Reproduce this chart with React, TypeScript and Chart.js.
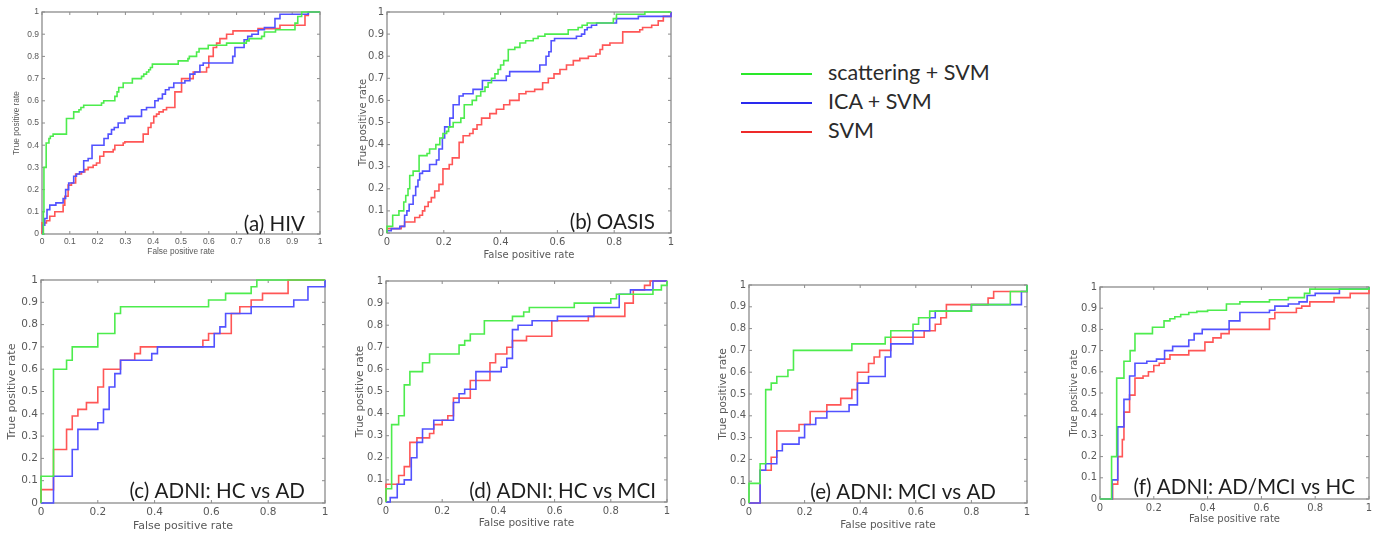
import React, { useEffect, useRef } from 'react';
import { Chart, registerables } from 'chart.js';

Chart.register(...registerables);

type Pt = [number, number];

// ---------- data: ROC corner points [false positive rate, true positive rate] ----------
// (a) HIV
const hivScattering: Pt[] = [[0,0],[0.005,0.1],[0.007,0.3],[0.015,0.41],[0.025,0.43],[0.03,0.44],[0.04,0.45],[0.088,0.52],[0.114,0.55],[0.133,0.56],[0.14,0.57],[0.15,0.58],[0.214,0.59],[0.222,0.6],[0.262,0.62],[0.27,0.64],[0.276,0.66],[0.292,0.68],[0.325,0.7],[0.358,0.71],[0.366,0.72],[0.376,0.73],[0.384,0.74],[0.39,0.75],[0.397,0.765],[0.49,0.78],[0.525,0.79],[0.53,0.8],[0.556,0.82],[0.565,0.835],[0.598,0.85],[0.664,0.86],[0.735,0.87],[0.745,0.88],[0.79,0.89],[0.8,0.91],[0.84,0.92],[0.91,0.95],[0.92,0.98],[0.934,1],[1,1]];
const hivIca: Pt[] = [[0,0],[0.004,0.04],[0.01,0.07],[0.018,0.11],[0.028,0.13],[0.05,0.14],[0.076,0.16],[0.085,0.2],[0.096,0.23],[0.114,0.26],[0.124,0.27],[0.135,0.28],[0.15,0.33],[0.166,0.34],[0.18,0.4],[0.223,0.43],[0.238,0.45],[0.25,0.47],[0.26,0.48],[0.274,0.5],[0.298,0.52],[0.31,0.53],[0.358,0.56],[0.376,0.57],[0.406,0.6],[0.418,0.61],[0.433,0.63],[0.444,0.65],[0.457,0.66],[0.474,0.68],[0.514,0.69],[0.532,0.72],[0.55,0.73],[0.568,0.76],[0.58,0.77],[0.686,0.8],[0.694,0.84],[0.727,0.875],[0.74,0.89],[0.755,0.9],[0.778,0.92],[0.8,0.93],[0.838,0.97],[0.856,0.99],[0.958,1],[1,1]];
const hivSvm: Pt[] = [[0,0],[0,0.05],[0.016,0.06],[0.028,0.08],[0.046,0.1],[0.076,0.13],[0.082,0.17],[0.094,0.22],[0.106,0.23],[0.121,0.27],[0.142,0.28],[0.154,0.29],[0.166,0.3],[0.184,0.31],[0.196,0.32],[0.208,0.35],[0.222,0.37],[0.256,0.38],[0.262,0.4],[0.292,0.41],[0.298,0.415],[0.364,0.45],[0.382,0.48],[0.392,0.5],[0.402,0.53],[0.412,0.54],[0.421,0.55],[0.436,0.56],[0.448,0.57],[0.478,0.64],[0.502,0.7],[0.544,0.73],[0.592,0.75],[0.6,0.8],[0.616,0.84],[0.628,0.86],[0.64,0.88],[0.664,0.9],[0.687,0.915],[0.777,0.925],[0.856,0.94],[0.946,0.985],[0.958,1],[1,1]];

// (b) OASIS
const oasisScattering: Pt[] = [[0,0],[0,0.03],[0.02,0.08],[0.042,0.1],[0.059,0.14],[0.066,0.17],[0.074,0.2],[0.08,0.26],[0.092,0.28],[0.113,0.35],[0.141,0.36],[0.15,0.38],[0.172,0.4],[0.186,0.43],[0.197,0.45],[0.21,0.46],[0.217,0.48],[0.233,0.5],[0.26,0.52],[0.272,0.58],[0.3,0.6],[0.315,0.62],[0.33,0.64],[0.345,0.66],[0.356,0.68],[0.368,0.7],[0.38,0.72],[0.391,0.74],[0.4,0.76],[0.411,0.78],[0.427,0.83],[0.45,0.84],[0.468,0.86],[0.488,0.87],[0.515,0.88],[0.532,0.89],[0.556,0.9],[0.638,0.92],[0.673,0.93],[0.687,0.94],[0.705,0.95],[0.797,0.97],[0.808,0.99],[0.908,1],[1,1]];
const oasisIca: Pt[] = [[0,0],[0,0.01],[0.015,0.02],[0.045,0.03],[0.062,0.08],[0.07,0.1],[0.078,0.13],[0.092,0.17],[0.101,0.21],[0.109,0.24],[0.115,0.27],[0.125,0.28],[0.15,0.31],[0.174,0.33],[0.183,0.38],[0.195,0.43],[0.203,0.48],[0.221,0.52],[0.233,0.58],[0.254,0.62],[0.268,0.63],[0.303,0.65],[0.336,0.69],[0.42,0.71],[0.432,0.73],[0.538,0.76],[0.56,0.8],[0.57,0.82],[0.578,0.87],[0.59,0.88],[0.667,0.89],[0.685,0.9],[0.696,0.92],[0.705,0.93],[0.72,0.94],[0.738,0.95],[0.808,0.97],[0.885,0.98],[1,1]];
const oasisSvm: Pt[] = [[0,0],[0,0.02],[0.05,0.03],[0.062,0.05],[0.098,0.07],[0.115,0.08],[0.125,0.1],[0.133,0.12],[0.145,0.14],[0.156,0.16],[0.168,0.19],[0.183,0.22],[0.197,0.29],[0.219,0.31],[0.23,0.34],[0.254,0.41],[0.268,0.44],[0.291,0.45],[0.303,0.47],[0.317,0.49],[0.333,0.52],[0.362,0.54],[0.385,0.56],[0.411,0.58],[0.432,0.6],[0.465,0.63],[0.489,0.64],[0.52,0.65],[0.548,0.68],[0.568,0.7],[0.588,0.72],[0.609,0.74],[0.632,0.76],[0.656,0.78],[0.679,0.79],[0.709,0.8],[0.736,0.81],[0.75,0.83],[0.759,0.85],[0.785,0.86],[0.83,0.91],[0.89,0.92],[0.9,0.93],[0.932,0.94],[0.955,0.96],[0.973,0.98],[1,1]];

// (c) ADNI: HC vs AD
const hcAdScattering: Pt[] = [[0,0],[0,0.12],[0.044,0.6],[0.09,0.64],[0.11,0.7],[0.2,0.76],[0.26,0.85],[0.28,0.88],[0.59,0.91],[0.65,0.94],[0.74,0.97],[0.76,1],[1,1]];
const hcAdIca: Pt[] = [[0,0],[0.044,0.12],[0.11,0.24],[0.13,0.33],[0.2,0.36],[0.22,0.42],[0.24,0.52],[0.26,0.58],[0.28,0.64],[0.39,0.67],[0.41,0.7],[0.61,0.76],[0.63,0.79],[0.65,0.85],[0.74,0.88],[0.89,0.91],[0.94,0.97],[1,1]];
const hcAdSvm: Pt[] = [[0,0],[0,0.06],[0.044,0.24],[0.09,0.33],[0.11,0.39],[0.13,0.42],[0.16,0.45],[0.2,0.52],[0.22,0.6],[0.28,0.64],[0.33,0.67],[0.35,0.7],[0.57,0.73],[0.59,0.76],[0.67,0.85],[0.7,0.88],[0.74,0.91],[0.78,0.94],[0.87,1],[1,1]];

// (d) ADNI: HC vs MCI
const hcMciScattering: Pt[] = [[0,0],[0,0.06],[0.02,0.35],[0.045,0.39],[0.065,0.53],[0.085,0.59],[0.13,0.63],[0.155,0.67],[0.26,0.71],[0.28,0.73],[0.3,0.76],[0.35,0.82],[0.45,0.84],[0.49,0.86],[0.51,0.88],[0.67,0.9],[0.8,0.92],[0.82,0.94],[0.95,0.96],[0.98,0.98],[1,1]];
const hcMciIca: Pt[] = [[0,0],[0.015,0.02],[0.04,0.08],[0.065,0.1],[0.09,0.2],[0.11,0.27],[0.13,0.33],[0.17,0.37],[0.24,0.45],[0.26,0.49],[0.28,0.51],[0.32,0.59],[0.41,0.61],[0.43,0.65],[0.45,0.78],[0.47,0.8],[0.52,0.82],[0.61,0.84],[0.74,0.88],[0.83,0.94],[0.87,0.96],[0.95,1],[1,1]];
const hcMciSvm: Pt[] = [[0,0],[0,0.08],[0.045,0.12],[0.065,0.16],[0.085,0.27],[0.11,0.29],[0.155,0.31],[0.17,0.35],[0.2,0.37],[0.22,0.39],[0.24,0.47],[0.3,0.55],[0.37,0.63],[0.39,0.67],[0.43,0.7],[0.45,0.73],[0.5,0.75],[0.59,0.82],[0.72,0.84],[0.85,0.9],[0.88,0.96],[0.92,0.98],[0.94,1],[1,1]];

// (e) ADNI: MCI vs AD
const mciAdScattering: Pt[] = [[0,0],[0,0.09],[0.04,0.18],[0.06,0.52],[0.08,0.55],[0.1,0.58],[0.14,0.61],[0.16,0.7],[0.37,0.73],[0.49,0.76],[0.51,0.79],[0.59,0.82],[0.61,0.85],[0.65,0.88],[0.8,0.91],[0.94,0.97],[1,1]];
const mciAdIca: Pt[] = [[0,0],[0.04,0.15],[0.06,0.18],[0.1,0.24],[0.12,0.27],[0.18,0.3],[0.2,0.36],[0.24,0.39],[0.28,0.42],[0.36,0.45],[0.39,0.55],[0.43,0.58],[0.49,0.67],[0.51,0.73],[0.59,0.79],[0.65,0.85],[0.67,0.88],[0.8,0.91],[0.98,0.97],[1,1]];
const mciAdSvm: Pt[] = [[0,0],[0.04,0.15],[0.08,0.21],[0.1,0.33],[0.18,0.36],[0.22,0.42],[0.28,0.45],[0.33,0.48],[0.37,0.52],[0.39,0.6],[0.43,0.64],[0.45,0.67],[0.47,0.7],[0.51,0.76],[0.63,0.79],[0.67,0.82],[0.69,0.85],[0.71,0.91],[0.86,0.94],[0.88,0.97],[1,1]];

// (f) ADNI: AD/MCI vs HC
const adMciHcScattering: Pt[] = [[0,0],[0.043,0.2],[0.062,0.57],[0.089,0.65],[0.112,0.7],[0.13,0.78],[0.195,0.81],[0.238,0.84],[0.26,0.85],[0.278,0.86],[0.3,0.87],[0.33,0.88],[0.36,0.885],[0.4,0.89],[0.47,0.92],[0.52,0.93],[0.63,0.94],[0.7,0.95],[0.76,0.97],[0.78,0.99],[1,1]];
const adMciHcIca: Pt[] = [[0,0],[0.045,0.09],[0.066,0.34],[0.089,0.47],[0.11,0.58],[0.13,0.64],[0.174,0.65],[0.21,0.66],[0.24,0.7],[0.27,0.72],[0.33,0.75],[0.35,0.78],[0.38,0.8],[0.48,0.84],[0.52,0.88],[0.63,0.89],[0.65,0.91],[0.7,0.92],[0.74,0.93],[0.77,0.96],[0.8,0.97],[0.89,0.99],[1,1]];
const adMciHcSvm: Pt[] = [[0,0],[0.047,0.07],[0.066,0.2],[0.083,0.28],[0.089,0.41],[0.11,0.49],[0.13,0.57],[0.16,0.58],[0.18,0.6],[0.2,0.63],[0.22,0.64],[0.24,0.66],[0.26,0.68],[0.33,0.7],[0.39,0.74],[0.42,0.76],[0.45,0.78],[0.48,0.8],[0.63,0.85],[0.65,0.88],[0.73,0.9],[0.75,0.91],[0.78,0.93],[0.87,0.95],[0.93,0.97],[1,0.99]];

const seriesNames = ['scattering + SVM', 'ICA + SVM', 'SVM'];
const xAxisTitle = 'False positive rate';
const yAxisTitle = 'True positive rate';

// ---------- styles / layout ----------
const lineColors = ['#4dec4d', '#5252ff', '#ff5656'];
const legendColors = ['#2ae82a', '#2a2aee', '#ee2a2a'];
const PAD = 10;

interface PanelCfg {
  label: string;
  data: Pt[][];
  xStep: number;
  L: number; T: number; R: number; B: number;
  yTitleX: number; xTitleY: number;
  family: string; tickSize: number; titleSize: number;
  labelDx: number; labelDy: number;
}

const panels: PanelCfg[] = [
  { label: '(a) HIV', data: [hivScattering, hivIca, hivSvm], xStep: 0.1, L: 42, T: 12, R: 320, B: 234, yTitleX: 17, xTitleY: 252, family: '"Liberation Sans", Arial, sans-serif', tickSize: 8.5, titleSize: 8.3, labelDx: 15, labelDy: 3.5 },
  { label: '(b) OASIS', data: [oasisScattering, oasisIca, oasisSvm], xStep: 0.2, L: 387, T: 12, R: 671, B: 233, yTitleX: 363, xTitleY: 255, family: '"DejaVu Sans", sans-serif', tickSize: 10, titleSize: 10, labelDx: 16, labelDy: 3.7 },
  { label: '(c) ADNI: HC vs AD', data: [hcAdScattering, hcAdIca, hcAdSvm], xStep: 0.2, L: 41, T: 280, R: 325, B: 503, yTitleX: 13, xTitleY: 526, family: '"DejaVu Sans", sans-serif', tickSize: 10.5, titleSize: 11, labelDx: 20, labelDy: 5.3 },
  { label: '(d) ADNI: HC vs MCI', data: [hcMciScattering, hcMciIca, hcMciSvm], xStep: 0.2, L: 386, T: 281, R: 667, B: 502, yTitleX: 360, xTitleY: 524, family: '"DejaVu Sans", sans-serif', tickSize: 10, titleSize: 10.5, labelDx: 11, labelDy: 4.3 },
  { label: '(e) ADNI: MCI vs AD', data: [mciAdScattering, mciAdIca, mciAdSvm], xStep: 0.2, L: 749, T: 285, R: 1027, B: 503, yTitleX: 723, xTitleY: 526, family: '"DejaVu Sans", sans-serif', tickSize: 10, titleSize: 10.5, labelDx: 31, labelDy: 3.7 },
  { label: '(f) ADNI: AD/MCI vs HC', data: [adMciHcScattering, adMciHcIca, adMciHcSvm], xStep: 0.2, L: 1100, T: 287, R: 1369, B: 499, yTitleX: 1074, xTitleY: 519, family: '"DejaVu Sans", sans-serif', tickSize: 10, titleSize: 10, labelDx: 14, labelDy: 5 },
];

const matlabAxes = {
  id: 'matlabAxes',
  beforeDatasetsDraw(chart: any, _args: any, opts: any) {
    const { ctx, chartArea: a, scales } = chart;
    ctx.save();
    ctx.strokeStyle = opts.frameColor;
    ctx.lineWidth = 1.3;
    ctx.strokeRect(a.left, a.top, a.right - a.left, a.bottom - a.top);
    const tl = opts.tickLen;
    ctx.beginPath();
    scales.x.ticks.forEach((t: any) => {
      const px = scales.x.getPixelForValue(t.value);
      ctx.moveTo(px, a.bottom); ctx.lineTo(px, a.bottom - tl);
      ctx.moveTo(px, a.top); ctx.lineTo(px, a.top + tl);
    });
    scales.y.ticks.forEach((t: any) => {
      const py = scales.y.getPixelForValue(t.value);
      ctx.moveTo(a.left, py); ctx.lineTo(a.left + tl, py);
      ctx.moveTo(a.right, py); ctx.lineTo(a.right - tl, py);
    });
    ctx.lineWidth = 1;
    ctx.stroke();
    ctx.restore();
  },
  afterDraw(chart: any, _args: any, opts: any) {
    const { ctx, chartArea: a } = chart;
    ctx.save();
    ctx.font = opts.labelFont;
    ctx.fillStyle = opts.labelColor;
    ctx.textAlign = 'right';
    ctx.textBaseline = 'alphabetic';
    ctx.fillText(opts.label, a.right - opts.labelDx, a.bottom - opts.labelDy);
    ctx.restore();
  },
};

function RocPanel({ cfg }: { cfg: PanelCfg }) {
  const ref = useRef<HTMLCanvasElement | null>(null);
  const lh = cfg.titleSize * 1.2;
  const left = Math.round(cfg.yTitleX - lh / 2);
  const top = cfg.T - PAD;
  const bottom = Math.round(cfg.xTitleY + lh / 2);
  const yAxisW = cfg.L - left;
  const xAxisH = bottom - cfg.B;
  const width = cfg.R + PAD - left;
  const height = bottom - top;

  useEffect(() => {
    if (!ref.current) return;
    const tickFont = { family: cfg.family, size: cfg.tickSize };
    const titleFont = { family: cfg.family, size: cfg.titleSize };
    const fmt = (v: any) => `${+Number(v).toFixed(2)}`;
    const chart = new Chart(ref.current, {
      type: 'line',
      data: {
        datasets: cfg.data.map((pts, i) => ({
          label: seriesNames[i],
          data: pts.map(([x, y]) => ({ x, y })),
          borderColor: lineColors[i],
          backgroundColor: lineColors[i],
          borderWidth: 1.6,
          pointRadius: 0,
          stepped: 'before' as const,
          fill: false,
          clip: 4,
        })),
      },
      options: {
        animation: false,
        responsive: false,
        devicePixelRatio: 1,
        events: [],
        layout: { padding: { left: 0, top: PAD, right: PAD, bottom: 0 } },
        scales: {
          x: {
            type: 'linear', min: 0, max: 1, offset: false,
            ticks: { stepSize: cfg.xStep, callback: fmt, font: tickFont, color: '#595959', padding: 3, maxRotation: 0, autoSkip: false },
            grid: { display: false, drawTicks: false },
            border: { display: false },
            title: { display: true, text: xAxisTitle, font: titleFont, color: '#595959', padding: 0 },
            afterFit: (s: any) => { s.height = xAxisH; },
          },
          y: {
            type: 'linear', min: 0, max: 1,
            ticks: { stepSize: 0.1, callback: fmt, font: tickFont, color: '#595959', padding: 3, autoSkip: false },
            grid: { display: false, drawTicks: false },
            border: { display: false },
            title: { display: true, text: yAxisTitle, font: titleFont, color: '#595959', padding: 0 },
            afterFit: (s: any) => { s.width = yAxisW; },
          },
        },
        plugins: {
          legend: { display: false },
          tooltip: { enabled: false },
          matlabAxes: {
            frameColor: '#8c8c8c', tickLen: 3,
            label: cfg.label, labelDx: cfg.labelDx, labelDy: cfg.labelDy,
            labelFont: '20.6px Lato, "Open Sans", sans-serif', labelColor: '#1e1e1e',
          },
        } as any,
      },
      plugins: [matlabAxes],
    } as any);
    return () => chart.destroy();
  }, []);

  return (
    <canvas
      ref={ref}
      width={width}
      height={height}
      style={{ position: 'absolute', left, top, width, height }}
    />
  );
}

const legendRows = [74, 103, 132];

export default function App() {
  return (
    <div style={{ position: 'absolute', left: 0, top: 0, width: 1376, height: 533, background: '#fff', overflow: 'hidden' }}>
      {panels.map((p) => <RocPanel key={p.label} cfg={p} />)}
      {seriesNames.map((name, i) => (
        <React.Fragment key={name}>
          <div style={{ position: 'absolute', left: 741, top: legendRows[i] - 1, width: 71, height: 2, background: legendColors[i] }} />
          <div style={{ position: 'absolute', left: 828, top: legendRows[i] - 15, height: 30, lineHeight: '30px', font: '21.5px Lato, "Open Sans", sans-serif', color: '#2b2b2b', whiteSpace: 'nowrap' }}>{name}</div>
        </React.Fragment>
      ))}
    </div>
  );
}
